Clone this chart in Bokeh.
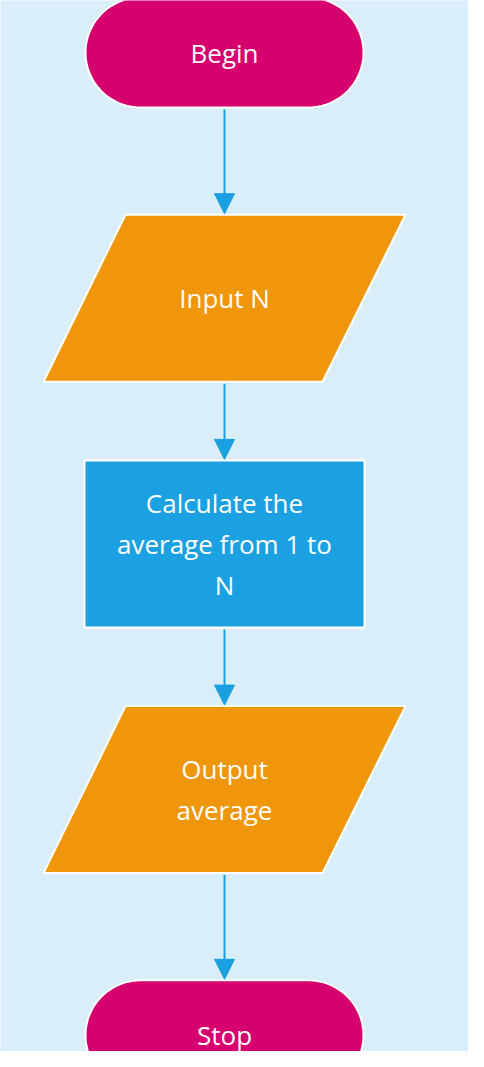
import numpy as np
from bokeh.plotting import figure
from bokeh.models import Range1d, Arrow, NormalHead
from bokeh.core.properties import value
from bokeh.embed import file_html
from bokeh.resources import INLINE

labels = ["Begin", "Input N", "Calculate the\naverage from 1 to\nN", "Output\naverage", "Stop"]
kinds = ["terminal", "io", "process", "io", "terminal"]

W, H = 468, 1051
p = figure(width=W, height=H, output_backend="svg", toolbar_location=None,
           x_range=Range1d(8, 476), y_range=Range1d(1059, 8), min_border=0)
p.axis.visible = False
p.grid.visible = False
p.outline_line_color = None
p.background_fill_color = "#daeef9"
p.border_fill_color = "#daeef9"

cx = 232
step = 245.7
colors = {"terminal": "#d6006f", "io": "#f0960a", "process": "#1ba1e2"}
half_h = {"terminal": 55, "io": 83.5, "process": 83.5}

xs, ys, fills = [], [], []
for i, k in enumerate(kinds):
    cy = 60 + i * step
    hh = half_h[k]
    if k == "terminal":
        r = hh; hw = 139
        t1 = np.linspace(-np.pi / 2, np.pi / 2, 40)
        t2 = np.linspace(np.pi / 2, 3 * np.pi / 2, 40)
        px = np.concatenate([cx + hw - r + r * np.cos(t1), cx - hw + r + r * np.cos(t2)])
        py = np.concatenate([cy + r * np.sin(t1), cy + r * np.sin(t2)])
    elif k == "io":
        px = [cx - 99, cx + 181, cx + 98, cx - 181]
        py = [cy - hh, cy - hh, cy + hh, cy + hh]
    else:
        px = [cx - 140, cx + 140, cx + 140, cx - 140]
        py = [cy - hh, cy - hh, cy + hh, cy + hh]
    xs.append(list(px)); ys.append(list(py)); fills.append(colors[k])

p.patches(xs, ys, fill_color=fills, line_color="white", line_width=2)

for i in range(len(kinds) - 1):
    y0 = 60 + i * step + half_h[kinds[i]] + 2
    y1 = 60 + (i + 1) * step - half_h[kinds[i + 1]] - 1
    p.add_layout(Arrow(end=NormalHead(size=20, fill_color="#1a9fe0", line_color="#1a9fe0"),
                       x_start=cx, y_start=y0, x_end=cx, y_end=y1,
                       line_color="#1a9fe0", line_width=2))

p.text([cx] * len(labels), [60 + i * step for i in range(len(labels))], text=labels,
       text_align="center", text_baseline="middle", text_color="white",
       text_font=value("Open Sans"), text_font_size="26px", text_line_height=1.15)

html = file_html(p, INLINE)
html = html.replace("<body>", '<body style="background:#daeef9">', 1)
open("out.html", "w").write(html)
